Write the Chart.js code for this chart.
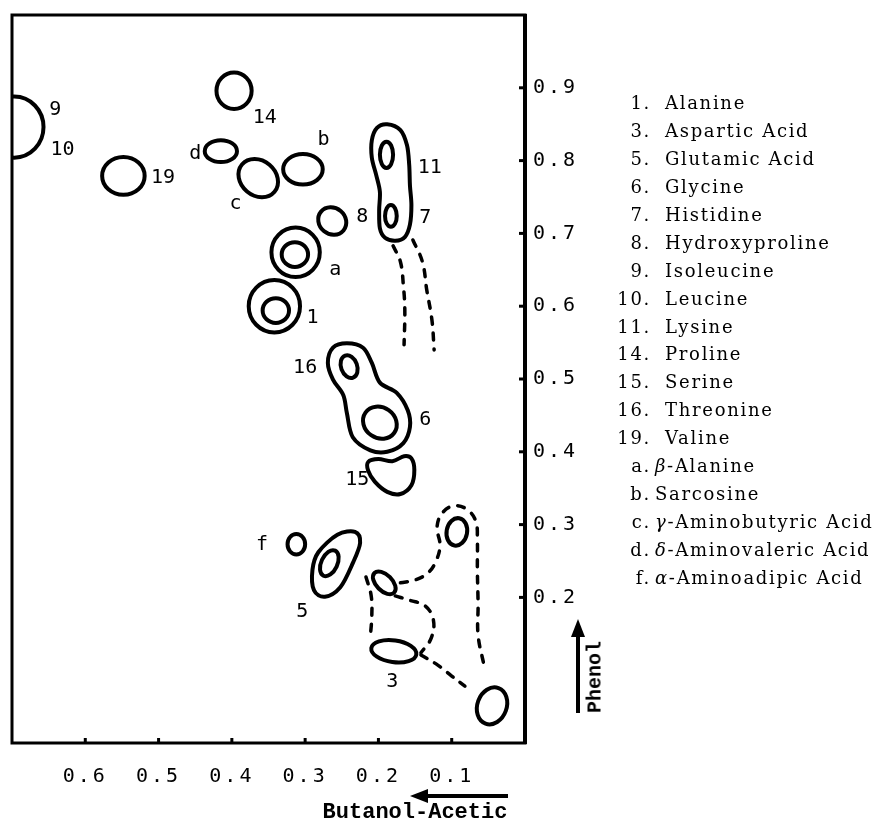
<!DOCTYPE html>
<html>
<head>
<meta charset="utf-8">
<script src="https://cdn.jsdelivr.net/npm/chart.js@4.4.0/dist/chart.umd.min.js"></script>
<style>
  body { margin: 0; background: #fff; }
  #wrap { position: relative; width: 890px; height: 821px; }
  #leyenda { position: absolute; left: 590px; top: 89px; font-family: "DejaVu Serif", serif; font-size: 18px; letter-spacing: 1.7px; color: #000; }
  #leyenda div { height: 27.94px; line-height: 27.94px; white-space: nowrap; }
  #leyenda .clave { display: inline-block; width: 61px; text-align: right; }
  #fenol { position: absolute; left: 595px; top: 677px; transform: translate(-50%, -50%) rotate(-90deg); font-family: "Liberation Mono", monospace; font-weight: bold; font-size: 20px; }
  #butanol { position: absolute; left: 415px; top: 812px; transform: translate(-50%, -50%); font-family: "Liberation Mono", monospace; font-weight: bold; font-size: 22px; white-space: nowrap; }
</style>
</head>
<body>
<div id="wrap">
  <canvas id="cromatograma" width="890" height="821"></canvas>
  <div id="leyenda"></div>
  <div id="fenol">Phenol</div>
  <div id="butanol">Butanol-Acetic</div>
</div>
<script>
// Rf en butanol-acético (x) y en fenol (y)
const xTicks = [0.6, 0.5, 0.4, 0.3, 0.2, 0.1];
const yTicks = [0.9, 0.8, 0.7, 0.6, 0.5, 0.4, 0.3, 0.2];

// Manchas simples como elipses: centro, semiejes (en Rf) y giro en grados
// orden: 14, 19, d, c, b, 9/10, 8, a, a(int), 1, 1(int), 11, 7, 16, 6, f, 5(int), 3, sin nombre x3
const manchaX  = [0.397, 0.548, 0.415, 0.364, 0.303, 0.697, 0.263, 0.313, 0.314, 0.342, 0.340, 0.189, 0.183, 0.240, 0.198, 0.312, 0.267, 0.179, 0.192, 0.093, 0.045];
const manchaY  = [0.896, 0.779, 0.813, 0.776, 0.788, 0.846, 0.717, 0.674, 0.671, 0.600, 0.594, 0.808, 0.724, 0.517, 0.440, 0.273, 0.247, 0.126, 0.220, 0.290, 0.051];
const manchaRx = [0.024, 0.029, 0.022, 0.029, 0.027, 0.040, 0.020, 0.033, 0.018, 0.035, 0.018, 0.009, 0.008, 0.011, 0.024, 0.012, 0.011, 0.031, 0.019, 0.014, 0.020];
const manchaRy = [0.025, 0.026, 0.015, 0.024, 0.021, 0.042, 0.018, 0.034, 0.017, 0.036, 0.017, 0.018, 0.015, 0.016, 0.021, 0.014, 0.019, 0.015, 0.011, 0.019, 0.026];
const manchaGiro = [0, 0, 0, 40, 0, 0, 40, 0, 0, 0, 0, 0, 0, -20, 35, 0, 25, 8, 45, 10, 20];

// Contornos irregulares (cerrados)
const contorno11_7 = [[0.188,0.850],[0.170,0.842],[0.161,0.821],[0.158,0.794],[0.157,0.766],[0.155,0.739],[0.157,0.712],[0.164,0.695],[0.177,0.690],[0.191,0.694],[0.198,0.707],[0.199,0.732],[0.198,0.757],[0.203,0.780],[0.209,0.804],[0.209,0.828],[0.202,0.845]];
const contorno16_6 = [[0.243,0.549],[0.221,0.543],[0.209,0.522],[0.198,0.495],[0.175,0.481],[0.160,0.457],[0.157,0.434],[0.166,0.412],[0.188,0.400],[0.211,0.402],[0.235,0.420],[0.243,0.453],[0.248,0.478],[0.262,0.499],[0.269,0.522],[0.262,0.543]];
const contorno15 = [[0.214,0.386],[0.200,0.390],[0.181,0.387],[0.165,0.394],[0.155,0.391],[0.151,0.375],[0.155,0.354],[0.170,0.342],[0.188,0.345],[0.205,0.359],[0.214,0.374]];
const contorno5 = [[0.232,0.290],[0.225,0.275],[0.235,0.247],[0.252,0.214],[0.273,0.201],[0.288,0.210],[0.290,0.238],[0.282,0.262],[0.256,0.286]];

// Estelas punteadas (abiertas)
const estelaIzq7 = [[0.180,0.683],[0.170,0.661],[0.166,0.629],[0.164,0.595],[0.165,0.547]];
const estelaDer7 = [[0.153,0.691],[0.140,0.661],[0.134,0.622],[0.127,0.581],[0.124,0.540]];
const estelaArco = [[0.170,0.220],[0.150,0.224],[0.132,0.234],[0.121,0.251],[0.116,0.272],[0.120,0.297],[0.112,0.317],[0.095,0.326],[0.078,0.320],[0.067,0.304],[0.065,0.279],[0.065,0.238],[0.064,0.190],[0.064,0.148],[0.056,0.107]];
const estelaCentro = [[0.177,0.202],[0.157,0.196],[0.136,0.188],[0.125,0.169],[0.128,0.144],[0.142,0.124]];
const estelaBajo = [[0.142,0.121],[0.119,0.107],[0.100,0.092],[0.082,0.078]];
const estelaIzq = [[0.217,0.228],[0.210,0.203],[0.209,0.176],[0.211,0.146]];

// Etiquetas dentro del cromatograma
const etiquetas = ['9','10','19','14','d','c','b','11','8','7','a','1','16','6','15','f','5','3'];
const etiquetaX = [0.641,0.631,0.494,0.355,0.450,0.395,0.275,0.130,0.222,0.136,0.259,0.290,0.300,0.136,0.229,0.359,0.304,0.181];
const etiquetaY = [0.870,0.815,0.776,0.859,0.810,0.740,0.828,0.790,0.723,0.721,0.650,0.584,0.515,0.444,0.361,0.272,0.180,0.084];

// Leyenda
const claves = ['1','3','5','6','7','8','9','10','11','14','15','16','19','a','b','c','d','f'];
const nombres = ['Alanine','Aspartic Acid','Glutamic Acid','Glycine','Histidine','Hydroxyproline','Isoleucine','Leucine','Lysine','Proline','Serine','Threonine','Valine','β-Alanine','Sarcosine','γ-Aminobutyric Acid','δ-Aminovaleric Acid','α-Aminoadipic Acid'];

function armarLeyenda(){
    const caja = document.getElementById('leyenda');
    for (let i = 0; i < claves.length; i++) {
        const fila = document.createElement('div');
        const clave = document.createElement('span');
        clave.className = 'clave';
        clave.textContent = claves[i] + '.';
        fila.appendChild(clave);
        const nombre = document.createElement('span');
        const esLetra = isNaN(parseInt(claves[i]));
        nombre.style.marginLeft = esLetra ? '4px' : '14px';
        const primera = nombres[i].charAt(0);
        if ('αβγδ'.includes(primera)) {
            const griega = document.createElement('i');
            griega.textContent = primera;
            nombre.appendChild(griega);
            nombre.appendChild(document.createTextNode(nombres[i].slice(1)));
        } else {
            nombre.textContent = nombres[i];
        }
        fila.appendChild(nombre);
        caja.appendChild(fila);
    }
}

function trazoSuave(ctx, pts, cerrado){
    // Catmull-Rom convertido a curvas de Bezier
    const n = pts.length;
    ctx.moveTo(pts[0][0], pts[0][1]);
    const fin = cerrado ? n : n - 1;
    for (let i = 0; i < fin; i++) {
        const p0 = pts[cerrado ? (i - 1 + n) % n : Math.max(i - 1, 0)];
        const p1 = pts[i];
        const p2 = pts[(i + 1) % n];
        const p3 = pts[cerrado ? (i + 2) % n : Math.min(i + 2, n - 1)];
        ctx.bezierCurveTo(
            p1[0] + (p2[0] - p0[0]) / 6, p1[1] + (p2[1] - p0[1]) / 6,
            p2[0] - (p3[0] - p1[0]) / 6, p2[1] - (p3[1] - p1[1]) / 6,
            p2[0], p2[1]);
    }
    if (cerrado) ctx.closePath();
}

function flecha(ctx, x1, y1, x2, y2){
    const ang = Math.atan2(y2 - y1, x2 - x1);
    const largo = 18, ancho = 7;
    const bx = x2 - Math.cos(ang) * largo, by = y2 - Math.sin(ang) * largo;
    ctx.beginPath();
    ctx.moveTo(x1, y1);
    ctx.lineTo(bx, by);
    ctx.lineWidth = 4;
    ctx.stroke();
    ctx.beginPath();
    ctx.moveTo(x2, y2);
    ctx.lineTo(bx - Math.sin(ang) * ancho, by + Math.cos(ang) * ancho);
    ctx.lineTo(bx + Math.sin(ang) * ancho, by - Math.cos(ang) * ancho);
    ctx.closePath();
    ctx.fill();
}

const manchas = {
    id: 'manchas',
    beforeDraw(chart){
        chart.ctx.letterSpacing = '3px';
    },
    afterDatasetsDraw(chart){
        const ctx = chart.ctx;
        const sx = chart.scales.x, sy = chart.scales.y;
        const a = chart.chartArea;
        const px = p => [sx.getPixelForValue(p[0]), sy.getPixelForValue(p[1])];
        ctx.save();
        ctx.letterSpacing = '0px';
        ctx.strokeStyle = '#000';
        ctx.fillStyle = '#000';
        ctx.lineWidth = 4;
        ctx.beginPath();
        ctx.rect(a.left, a.top, a.right - a.left, a.bottom - a.top);
        ctx.clip();

        // elipses
        for (let i = 0; i < manchaX.length; i++) {
            const cx = sx.getPixelForValue(manchaX[i]);
            const cy = sy.getPixelForValue(manchaY[i]);
            const rx = Math.abs(sx.getPixelForValue(manchaX[i] + manchaRx[i]) - cx);
            const ry = Math.abs(sy.getPixelForValue(manchaY[i] + manchaRy[i]) - cy);
            ctx.beginPath();
            ctx.ellipse(cx, cy, rx, ry, manchaGiro[i] * Math.PI / 180, 0, 2 * Math.PI);
            ctx.stroke();
        }
        // contornos irregulares
        [contorno11_7, contorno16_6, contorno15, contorno5].forEach(c => {
            ctx.beginPath();
            trazoSuave(ctx, c.map(px), true);
            ctx.stroke();
        });

        // etiquetas
        ctx.font = '20px "DejaVu Sans Mono"';
        ctx.textAlign = 'center';
        ctx.textBaseline = 'middle';
        for (let i = 0; i < etiquetas.length; i++) {
            ctx.fillText(etiquetas[i], sx.getPixelForValue(etiquetaX[i]), sy.getPixelForValue(etiquetaY[i]));
        }
        ctx.restore();

        // marco y marcas hacia dentro
        ctx.save();
        ctx.strokeStyle = '#000';
        ctx.fillStyle = '#000';
        ctx.lineWidth = 3;
        ctx.strokeRect(a.left, a.top, a.right - a.left, a.bottom - a.top);
        ctx.lineWidth = 4;
        ctx.beginPath();
        ctx.moveTo(a.right, a.top - 1);
        ctx.lineTo(a.right, a.bottom + 1);
        ctx.stroke();
        ctx.lineWidth = 3;
        xTicks.forEach(v => {
            const x = sx.getPixelForValue(v);
            ctx.beginPath(); ctx.moveTo(x, a.bottom); ctx.lineTo(x, a.bottom - 5); ctx.stroke();
        });
        yTicks.forEach(v => {
            const y = sy.getPixelForValue(v);
            ctx.beginPath(); ctx.moveTo(a.right, y); ctx.lineTo(a.right - 6, y); ctx.stroke();
        });

        // flechas de dirección de los solventes
        flecha(ctx, a.right - 17, a.bottom + 53, a.right - 115, a.bottom + 53);
        flecha(ctx, a.right + 53, a.bottom - 30, a.right + 53, a.bottom - 124);
        ctx.restore();
    }
};

function estela(puntos){
    return {
        data: puntos.map(p => ({ x: p[0], y: p[1] })),
        showLine: true,
        tension: 0.4,
        borderColor: '#000',
        borderWidth: 3.5,
        borderDash: [7, 9],
        borderCapStyle: 'round',
        pointRadius: 0,
        fill: false
    };
}

armarLeyenda();

const ctx = document.getElementById('cromatograma').getContext('2d');
new Chart(ctx, {
    type: 'scatter',
    data: {
        datasets: [estelaIzq7, estelaDer7, estelaArco, estelaCentro, estelaBajo, estelaIzq].map(estela)
    },
    options: {
        responsive: false,
        animation: false,
        devicePixelRatio: 1,
        layout: { padding: { left: 12, top: 15, right: 0, bottom: 0 } },
        plugins: { legend: { display: false }, tooltip: { enabled: false } },
        scales: {
            x: {
                type: 'linear',
                reverse: true,
                min: 0,
                max: 0.70,
                afterBuildTicks: s => { s.ticks = xTicks.map(v => ({ value: v })); },
                afterFit: s => { s.height = 78; s.paddingLeft = 0; s.paddingRight = 0; },
                grid: { display: false, drawTicks: false },
                border: { display: false },
                ticks: { padding: 22, color: '#000', font: { family: 'DejaVu Sans Mono', size: 20 }, callback: v => v.toFixed(1) }
            },
            y: {
                type: 'linear',
                position: 'right',
                min: 0,
                max: 1.0,
                afterBuildTicks: s => { s.ticks = yTicks.map(v => ({ value: v })); },
                afterFit: s => { s.width = 365; s.paddingTop = 0; s.paddingBottom = 0; },
                grid: { display: false, drawTicks: false },
                border: { display: false },
                ticks: { padding: 8, color: '#000', font: { family: 'DejaVu Sans Mono', size: 20 }, callback: v => v.toFixed(1) }
            }
        }
    },
    plugins: [manchas]
});
</script>
</body>
</html>
